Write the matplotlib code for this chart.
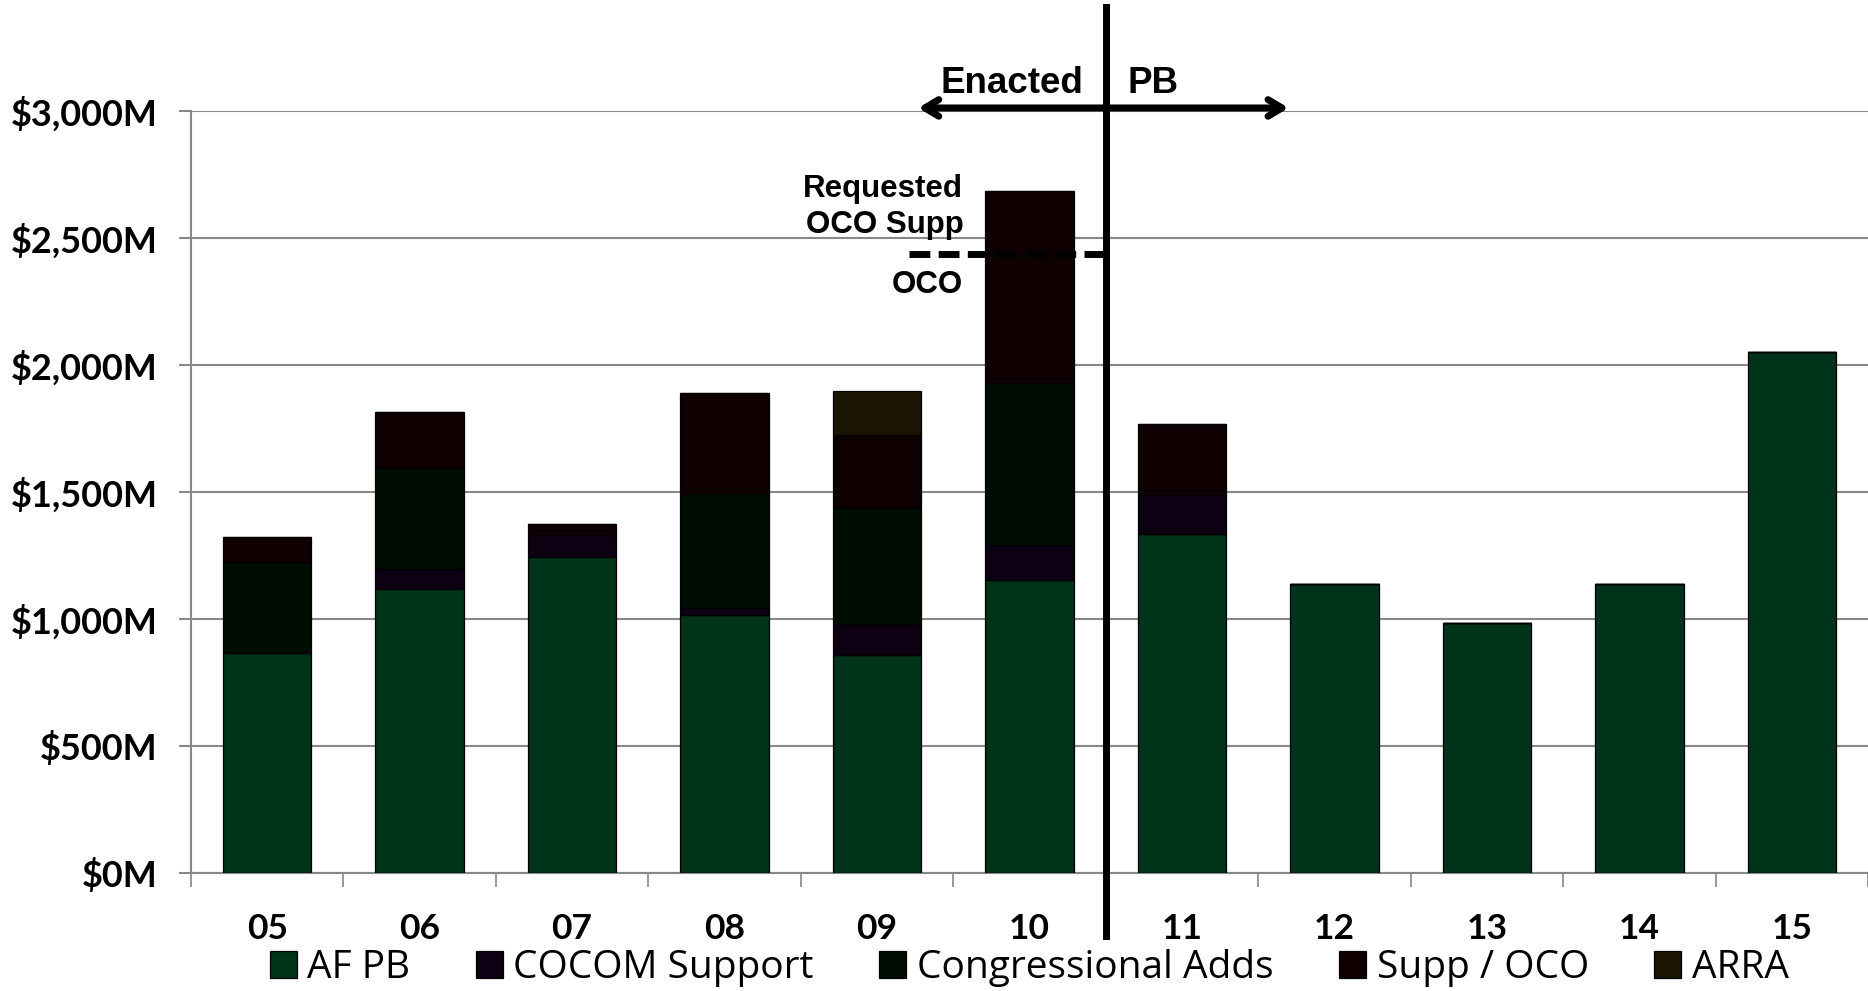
import matplotlib
matplotlib.use("Agg")
import matplotlib.pyplot as plt
import numpy as np

# fiscal years and funding by source ($M)
years = ['05', '06', '07', '08', '09', '10', '11', '12', '13', '14', '15']
af_pb = [867, 1118, 1245, 1014, 857, 1152, 1333, 1139, 984, 1139, 2052]
cocom = [0, 80, 84, 29, 125, 138, 156, 0, 0, 0, 0]
cong_adds = [356, 396, 0, 448, 454, 640, 0, 0, 0, 0, 0]
supp_oco = [99, 220, 44, 399, 290, 754, 279, 0, 0, 0, 0]
arra = [0, 0, 0, 0, 172, 0, 0, 0, 0, 0, 0]

series_names = ['AF PB', 'COCOM Support', 'Congressional Adds', 'Supp / OCO', 'ARRA']
series_colors = ['#01321A', '#0D0012', '#000D03', '#0E0000', '#1A1603']
yticks = [0, 500, 1000, 1500, 2000, 2500, 3000]
ytick_labels = ['$0M', '$500M', '$1,000M', '$1,500M', '$2,000M', '$2,500M', '$3,000M']

oco_requested = 2437   # dashed line level for FY10

fig = plt.figure(figsize=(18.68, 9.91), dpi=100)
ax = fig.add_axes([0.1022, 0.1191, 0.8978, 0.7689])

x = np.arange(len(years))
bottom = np.zeros(len(years))
series = [af_pb, cocom, cong_adds, supp_oco, arra]
for vals, name, col in zip(series, series_names, series_colors):
    vals = np.array(vals, dtype=float)
    ax.bar(x, vals, width=0.58, bottom=bottom, color=col, edgecolor='black',
           linewidth=0.9, label=name, zorder=3)
    bottom = bottom + vals

ax.set_xlim(-0.5, 10.5)
ax.set_ylim(0, 3000)
ax.set_yticks(yticks)
ax.set_yticklabels(ytick_labels)
ax.set_xticks(x)
ax.set_xticklabels(years)
ax.set_xticks(np.arange(-0.5, 11, 1), minor=True)

ax.grid(axis='y', color='#888888', linewidth=1.5, zorder=0)
for s in ['top', 'right']:
    ax.spines[s].set_visible(False)
for s in ['left', 'bottom']:
    ax.spines[s].set_color('#888888')
    ax.spines[s].set_linewidth(1.5)

ax.tick_params(axis='y', length=9, width=1.5, color='#888888', pad=15)
ax.tick_params(axis='x', which='major', length=0, pad=29)
ax.tick_params(axis='x', which='minor', length=10, width=1.2, color='#888888')
for lab in ax.get_yticklabels():
    lab.set_fontfamily('Lato')
    lab.set_fontweight('bold')
    lab.set_fontsize(26)
for lab in ax.get_xticklabels():
    lab.set_fontfamily('Lato')
    lab.set_fontweight('bold')
    lab.set_fontsize(25.5)

# enacted / PB divider
ax.plot([5.5, 5.5], [-250, 3410], color='black', linewidth=5, clip_on=False, zorder=5)
ax.annotate('', xy=(4.27, 3012), xytext=(6.70, 3012),
            arrowprops=dict(arrowstyle='<->,head_length=1.0,head_width=0.6',
                            color='black', lw=5, shrinkA=0, shrinkB=0),
            annotation_clip=False, zorder=5)
ax.text(5.355, 3071, 'Enacted', ha='right', va='baseline', fontsize=26.5,
        fontweight='bold', family='Liberation Sans')
ax.text(5.64, 3071, 'PB', ha='left', va='baseline', fontsize=26.5,
        fontweight='bold', family='Liberation Sans')

# requested OCO supplemental marker
ax.plot([4.21, 5.5], [oco_requested, oco_requested], color='black', linewidth=5,
        linestyle=(0, (3, 1.2)), zorder=4, clip_on=False)
ax.text(4.566, 2661, 'Requested', ha='right', va='baseline', fontsize=22.5,
        fontweight='bold', family='Liberation Sans')
ax.text(4.566, 2520, 'OCO Supp', ha='right', va='baseline', fontsize=22.5,
        fontweight='bold', family='Liberation Sans')
ax.text(4.566, 2283, 'OCO', ha='right', va='baseline', fontsize=22.5,
        fontweight='bold', family='Liberation Sans')

fig.legend(loc='center', bbox_to_anchor=(0.551, 0.023), ncol=5, frameon=False,
           prop={'family': 'Open Sans', 'size': 28}, handlelength=0.69, handleheight=0.69,
           handletextpad=0.28, columnspacing=1.68, borderpad=0, borderaxespad=0)

fig.savefig('out.png', dpi=100)
